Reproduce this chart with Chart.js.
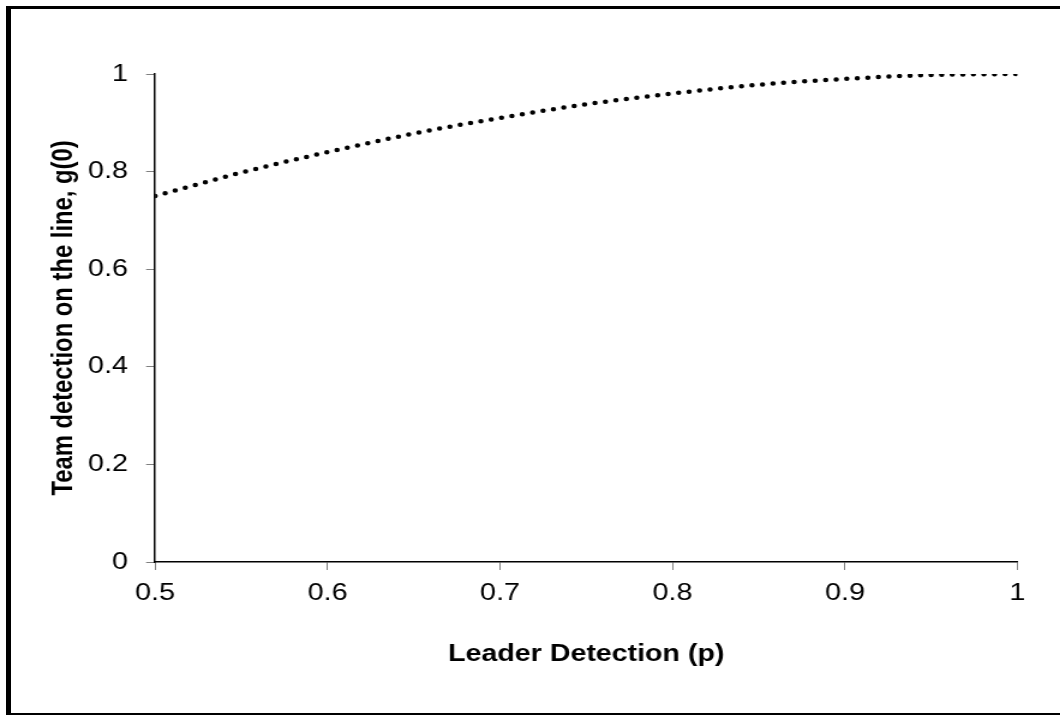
<html lang="en">
<head>
    <meta charset="UTF-8">
    <title>Team detection on the line</title>
    <script src='https://cdn.jsdelivr.net/npm/chart.js@4.4.1/dist/chart.umd.min.js'></script>
    <style>
        body { margin: 0; background: #fff; }
        #wrap { position: absolute; left: 0; top: 0; width: 1060px; height: 715px; overflow: hidden; }
        /* the original is a bit wider than tall, so the canvas is stretched sideways */
        #chart { position: absolute; left: 0; top: 0; transform-origin: 0 0; transform: scaleX(1.2005); }
        #frame { position: absolute; left: 6px; top: 6px; width: 1070px; height: 704px;
                 border-left: 5px solid #000; border-top: 3px solid #000; border-bottom: 3px solid #000; }
    </style>
</head>
<body>
    <div id='wrap'>
        <canvas id='chart' width='883' height='715'></canvas>
        <div id='frame'></div>
    </div>
    <script>
        // values
        const leaderP = [0.5, 0.55, 0.6, 0.65, 0.7, 0.75, 0.8, 0.85, 0.9, 0.95, 1];
        const teamG = [0.75, 0.798, 0.84, 0.878, 0.91, 0.938, 0.96, 0.978, 0.99, 0.998, 1];
        const xTickLabels = ['0.5', '0.6', '0.7', '0.8', '0.9', '1'];
        const yTickLabels = ['0', '0.2', '0.4', '0.6', '0.8', '1'];

        const font = { family: 'Liberation Sans, Arial, sans-serif', size: 24 };
        const titleFont = { family: 'Liberation Sans, Arial, sans-serif', size: 23.8, weight: 'bold' };

        const ctx = document.getElementById('chart').getContext('2d');
        const myChart = new Chart(ctx, {
            type: 'line',
            data: {
                datasets: [{
                    data: leaderP.map((p, i) => ({ x: p, y: teamG[i] })),
                    borderColor: '#000',
                    borderWidth: 4.5,
                    borderDash: [0, 8.8],
                    borderCapStyle: 'round',
                    cubicInterpolationMode: 'monotone',
                    pointRadius: 0,
                    fill: false
                }]
            },
            options: {
                responsive: false,
                animation: false,
                devicePixelRatio: 1,
                layout: { padding: { left: 0, right: 35.5, top: 74, bottom: 0 } },
                plugins: { legend: { display: false }, tooltip: { enabled: false } },
                scales: {
                    x: {
                        type: 'linear',
                        min: 0.5, max: 1,
                        afterFit: s => { s.height = 153; },
                        border: { color: '#000', width: 1.5 },
                        grid: { drawOnChartArea: false, drawTicks: true, tickLength: 8, color: '#808080' },
                        ticks: { stepSize: 0.1, color: '#000', font: font, padding: 9,
                                 callback: (v, i) => xTickLabels[i] },
                        title: { display: true, text: 'Leader Detection (p)', color: '#000',
                                 font: titleFont, padding: { top: 0, bottom: 46 } }
                    },
                    y: {
                        min: 0, max: 1,
                        afterFit: s => { s.width = 129.2; },
                        border: { color: '#000', width: 1.5 },
                        grid: { drawOnChartArea: false, drawTicks: true, tickLength: 7.5, color: '#808080' },
                        ticks: { stepSize: 0.2, color: '#000', font: font, padding: 15,
                                 callback: (v, i) => yTickLabels[i] },
                        title: { display: true, text: 'Team detection on the line, g(0)', color: '#000',
                                 font: titleFont, padding: { top: 39.5, bottom: 0 } }
                    }
                }
            }
        });
    </script>
</body>
</html>
